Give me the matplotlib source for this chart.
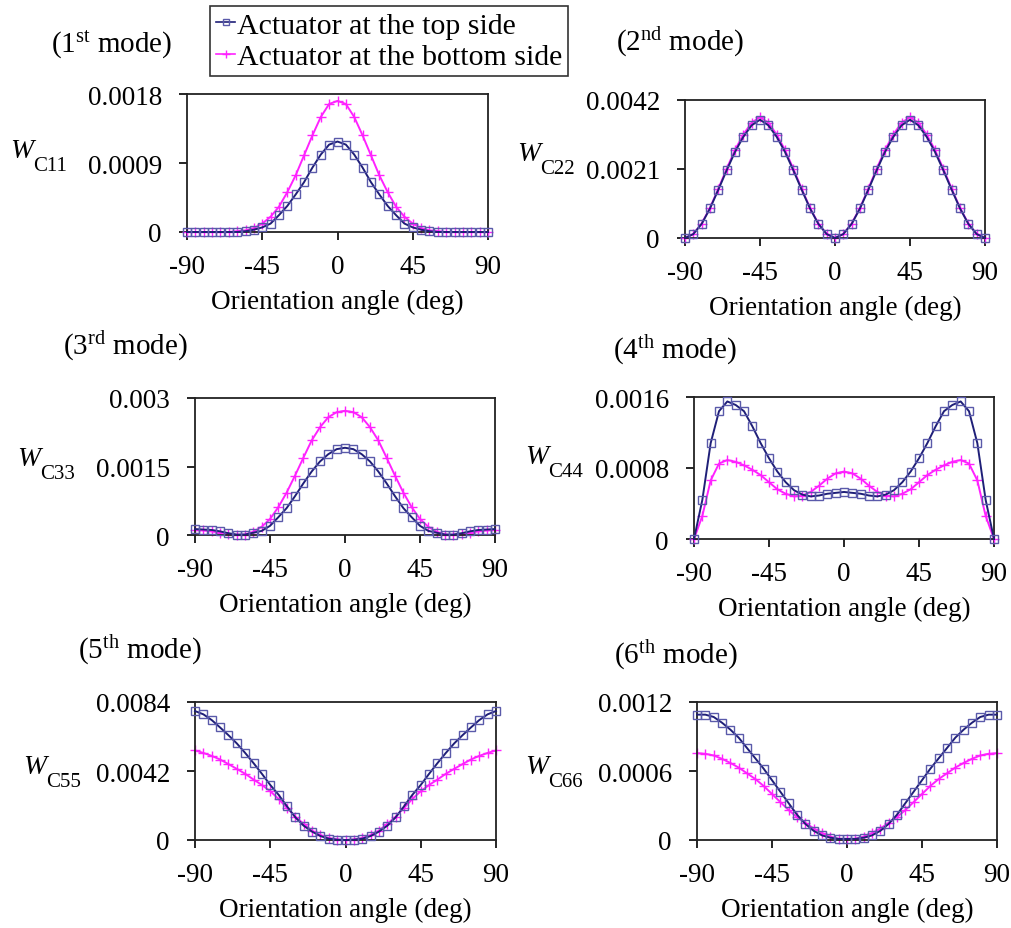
import matplotlib
matplotlib.use("Agg")
import matplotlib.pyplot as plt
from matplotlib.lines import Line2D

plt.rcParams['font.family'] = ['Liberation Serif', 'DejaVu Serif']
plt.rcParams['mathtext.fontset'] = 'custom'
plt.rcParams['mathtext.rm'] = 'Liberation Serif'
plt.rcParams['mathtext.it'] = 'Liberation Serif:italic'

# orientation angle (deg), every 5 degrees
angles = list(range(-90, 91, 5))

w11_top = [0, 0, 0, 0, 0, 0, 0, 0.00001, 0.00003, 0.00006, 0.00011, 0.00022, 0.00034, 0.00049, 0.00065, 0.00084, 0.00101, 0.00114, 0.00118,
           0.00114, 0.00101, 0.00084, 0.00065, 0.00049, 0.00034, 0.00022, 0.00011, 0.00006, 0.00003, 0.00001, 0, 0, 0, 0, 0, 0, 0]
w11_bot = [0, 0, 0, 0, 0, 0, 0.00001, 0.00002, 0.00005, 0.00011, 0.00020, 0.00033, 0.00052, 0.00074, 0.00100, 0.00126, 0.00150, 0.00167, 0.00171,
           0.00167, 0.00150, 0.00126, 0.00100, 0.00074, 0.00052, 0.00033, 0.00020, 0.00011, 0.00005, 0.00002, 0.00001, 0, 0, 0, 0, 0, 0]

w22_top = [0, 0.00012, 0.00043, 0.00090, 0.00147, 0.00206, 0.00262, 0.00308, 0.00343, 0.00360, 0.00343, 0.00308, 0.00262, 0.00206, 0.00147, 0.00090, 0.00043, 0.00012, 0,
           0.00012, 0.00043, 0.00090, 0.00147, 0.00206, 0.00262, 0.00308, 0.00343, 0.00360, 0.00343, 0.00308, 0.00262, 0.00206, 0.00147, 0.00090, 0.00043, 0.00012, 0]
w22_bot = [0, 0.00012, 0.00044, 0.00092, 0.00150, 0.00211, 0.00268, 0.00315, 0.00351, 0.00368, 0.00351, 0.00315, 0.00268, 0.00211, 0.00150, 0.00092, 0.00044, 0.00012, 0,
           0.00012, 0.00044, 0.00092, 0.00150, 0.00211, 0.00268, 0.00315, 0.00351, 0.00368, 0.00351, 0.00315, 0.00268, 0.00211, 0.00150, 0.00092, 0.00044, 0.00012, 0]

w33_top = [0.00013, 0.00012, 0.00011, 0.00008, 0.00004, 0.00001, 0.00001, 0.00005, 0.00009, 0.00020, 0.00039, 0.00059, 0.00085, 0.00113, 0.00139, 0.00161, 0.00177, 0.00188, 0.00191,
           0.00188, 0.00177, 0.00161, 0.00139, 0.00113, 0.00085, 0.00059, 0.00039, 0.00020, 0.00009, 0.00005, 0.00001, 0.00001, 0.00004, 0.00008, 0.00011, 0.00012, 0.00013]
w33_bot = [0.00011, 0.00010, 0.00008, 0.00005, 0.00002, 0, 0.00001, 0.00007, 0.00018, 0.00035, 0.00061, 0.00093, 0.00130, 0.00169, 0.00207, 0.00236, 0.00258, 0.00269, 0.00272,
           0.00269, 0.00258, 0.00236, 0.00207, 0.00169, 0.00130, 0.00093, 0.00061, 0.00035, 0.00018, 0.00007, 0.00001, 0, 0.00002, 0.00005, 0.00008, 0.00010, 0.00011]

w44_top = [0, 0.00044, 0.00108, 0.00144, 0.00155, 0.00151, 0.00144, 0.00127, 0.00108, 0.00091, 0.00076, 0.00064, 0.00055, 0.00050, 0.00048, 0.00049, 0.00051, 0.00052, 0.00053,
           0.00052, 0.00051, 0.00049, 0.00048, 0.00050, 0.00055, 0.00064, 0.00076, 0.00091, 0.00108, 0.00127, 0.00144, 0.00151, 0.00155, 0.00144, 0.00108, 0.00044, 0]
w44_bot = [0, 0.00026, 0.00066, 0.00085, 0.00089, 0.00087, 0.00083, 0.00078, 0.00072, 0.00064, 0.00056, 0.00051, 0.00048, 0.00049, 0.00053, 0.00060, 0.00068, 0.00074, 0.00076,
           0.00074, 0.00068, 0.00060, 0.00053, 0.00049, 0.00048, 0.00051, 0.00056, 0.00064, 0.00072, 0.00078, 0.00083, 0.00087, 0.00089, 0.00085, 0.00066, 0.00026, 0]

w55_top = [0.00785, 0.00765, 0.00730, 0.00685, 0.00638, 0.00588, 0.00530, 0.00468, 0.00403, 0.00335, 0.00275, 0.00205, 0.00138, 0.00087, 0.00051, 0.00024, 0.00008, 0.00002, 0,
           0.00002, 0.00008, 0.00024, 0.00051, 0.00087, 0.00138, 0.00205, 0.00275, 0.00335, 0.00403, 0.00468, 0.00530, 0.00588, 0.00638, 0.00685, 0.00730, 0.00765, 0.00785]
w55_bot = [0.00545, 0.00530, 0.00512, 0.00490, 0.00462, 0.00433, 0.00403, 0.00368, 0.00335, 0.00297, 0.00250, 0.00195, 0.00142, 0.00098, 0.00057, 0.00030, 0.00012, 0.00003, 0,
           0.00003, 0.00012, 0.00030, 0.00057, 0.00098, 0.00142, 0.00195, 0.00250, 0.00297, 0.00335, 0.00368, 0.00403, 0.00433, 0.00462, 0.00490, 0.00512, 0.00530, 0.00545]

w66_top = [0.00109, 0.00109, 0.00107, 0.00102, 0.00096, 0.00089, 0.00080, 0.00071, 0.00062, 0.00052, 0.00042, 0.00032, 0.00022, 0.00014, 0.00008, 0.00004, 0.00002, 0.00001, 0.00001,
           0.00001, 0.00002, 0.00004, 0.00008, 0.00014, 0.00022, 0.00032, 0.00042, 0.00052, 0.00062, 0.00071, 0.00080, 0.00089, 0.00096, 0.00102, 0.00107, 0.00109, 0.00109]
w66_bot = [0.000755, 0.00075, 0.000735, 0.000706, 0.00067, 0.00063, 0.00058, 0.00053, 0.00047, 0.00040, 0.00033, 0.00026, 0.00020, 0.00015, 0.00010, 0.00006, 0.00003, 0.00001, 0.00001,
           0.00001, 0.00003, 0.00006, 0.00010, 0.00015, 0.00020, 0.00026, 0.00033, 0.00040, 0.00047, 0.00053, 0.00058, 0.00063, 0.00067, 0.000706, 0.000735, 0.00075, 0.000755]

titles = [r"(1$^{\rm st}$ mode)", r"(2$^{\rm nd}$ mode)", r"(3$^{\rm rd}$ mode)",
          r"(4$^{\rm th}$ mode)", r"(5$^{\rm th}$ mode)", r"(6$^{\rm th}$ mode)"]
ysubs = ["C11", "C22", "C33", "C44", "C55", "C66"]
ytick_labels = [["0", "0.0009", "0.0018"], ["0", "0.0021", "0.0042"], ["0", "0.0015", "0.003"],
                ["0", "0.0008", "0.0016"], ["0", "0.0042", "0.0084"], ["0", "0.0006", "0.0012"]]
xtick_vals = [-90, -45, 0, 45, 90]
top_series = [w11_top, w22_top, w33_top, w44_top, w55_top, w66_top]
bot_series = [w11_bot, w22_bot, w33_bot, w44_bot, w55_bot, w66_bot]

W, H = 1012, 929
fig = plt.figure(figsize=(W / 100, H / 100), dpi=100)

# axes boxes in pixels: left, top, right, bottom
boxes = [(187, 95, 488, 233), (685, 101, 985, 239),
         (195, 399, 495, 536), (694, 398, 994, 540),
         (195, 703, 496, 841), (697, 703, 997, 841)]
title_pos = [(112, 45), (680, 42), (125, 346), (675, 350), (140, 650), (676, 655)]
# left edge and baseline of the big W
ylab_pos = [(10, 158), (517, 161), (17, 466), (525, 464), (23, 774), (525, 774)]

top_line = '#1f1f78'
top_mark = '#5a5aaa'
bot_col = '#ff22ff'

for i in range(6):
    l, t, r, b = boxes[i]
    ax = fig.add_axes([l / W, 1 - b / H, (r - l) / W, (b - t) / H])
    ax.plot(angles, bot_series[i], color=bot_col, lw=1.4, marker='+', ms=7, mew=1.0, zorder=2)
    ax.plot(angles, top_series[i], color=top_line, lw=1.4, zorder=3)
    ax.plot(angles, top_series[i], ls='none', marker='s', ms=5.8, mfc='none', mec=top_mark, mew=1.0, zorder=4)
    ax.set_xlim(-90, 90)
    ymax = float(ytick_labels[i][2])
    ax.set_ylim(0, ymax)
    ax.set_xticks(xtick_vals)
    ax.set_xticklabels([str(v) for v in xtick_vals])
    ax.set_yticks([0, ymax / 2, ymax])
    ax.set_yticklabels(ytick_labels[i])
    ax.tick_params(direction='out', length=6, width=1.2, labelsize=19.5, colors='black')
    ax.tick_params(axis='x', pad=10)
    ax.tick_params(axis='y', pad=12)
    for s in ax.spines.values():
        s.set_linewidth(1.3)
        s.set_color('#222222')
    ax.set_xlabel("Orientation angle (deg)", fontsize=19.5, labelpad=7)
    for ln in ax.lines:
        ln.set_clip_on(False)
    fig.text(title_pos[i][0] / W, 1 - title_pos[i][1] / H, titles[i], fontsize=21, ha='center', va='center')
    wx, wy = ylab_pos[i]
    fig.text(wx / W, 1 - wy / H, "W", fontsize=20, style='italic', ha='left', va='baseline')
    fig.text((wx + 23) / W, 1 - (wy + 13) / H, ysubs[i], fontsize=15, ha='left', va='baseline')

handles = [Line2D([], [], color=top_line, lw=1.2, marker='s', ms=4, mfc='none', mec=top_mark),
           Line2D([], [], color=bot_col, lw=1.2, marker='+', ms=6)]
leg = fig.legend(handles, ["Actuator at the top side", "Actuator at the bottom side"],
                 loc='upper left', bbox_to_anchor=(210 / W, 1 - 7 / H), fontsize=21.5,
                 frameon=True, fancybox=False, edgecolor='black', handlelength=0.65,
                 handletextpad=0.05, borderpad=0.2, labelspacing=0.15, borderaxespad=0)
leg.get_frame().set_linewidth(1.2)

fig.savefig('out.png', dpi=100)
